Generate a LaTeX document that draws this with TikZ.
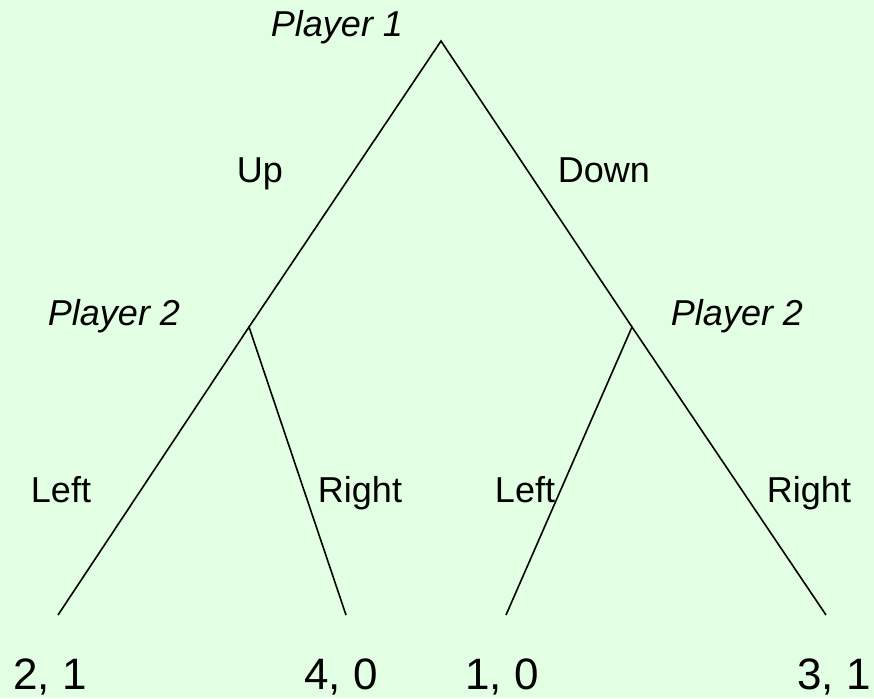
\documentclass[tikz,border=0pt]{standalone}
\usepackage{fontspec}
\setmainfont{Liberation Sans}
\definecolor{bggreen}{RGB}{227,255,227}

\begin{document}
\begin{tikzpicture}[x=1pt,y=-1pt,line width=1.6pt,
	lbl/.style={anchor=base,inner sep=0pt,font=\fontsize{36}{40}\selectfont},
	player/.style={lbl,font=\fontsize{36}{40}\selectfont\itshape},
	payoff/.style={anchor=base,inner sep=0pt,font=\fontsize{44}{48}\selectfont}]
	\fill[bggreen] (0,0) rectangle (874,698);
	\useasboundingbox (0,0) rectangle (874,698);
	% decision nodes and leaves
	\coordinate (root) at (441,41);
	\coordinate (pa) at (249,327);
	\coordinate (pb) at (632,327);
	\coordinate (la) at (58,615);
	\coordinate (ra) at (346,615);
	\coordinate (lb) at (506,615);
	\coordinate (rb) at (826,615);
	\draw (pa) -- (root) -- (pb);
	\draw (la) -- (pa) -- (ra);
	\draw (lb) -- (pb) -- (rb);
	% labels
	\node[player] (p1) at (337,37) {Player 1};
	\node[player] (p2a) at (114,325) {Player 2};
	\node[player] (p2b) at (737,325) {Player 2};
	\node[lbl] (up) at (260,182) {Up};
	\node[lbl] (down) at (604,182) {Down};
	\node[lbl] (lefta) at (61,502) {Left};
	\node[lbl] (righta) at (360,502) {Right};
	\node[lbl] (leftb) at (525,502) {Left};
	\node[lbl] (rightb) at (809,502) {Right};
	% payoffs
	\node[payoff] (ua) at (50,689) {2, 1};
	\node[payoff] (ub) at (341,689) {4, 0};
	\node[payoff] (uc) at (502,689) {1, 0};
	\node[payoff] (ud) at (834,689) {3, 1};
\end{tikzpicture}
\end{document}
